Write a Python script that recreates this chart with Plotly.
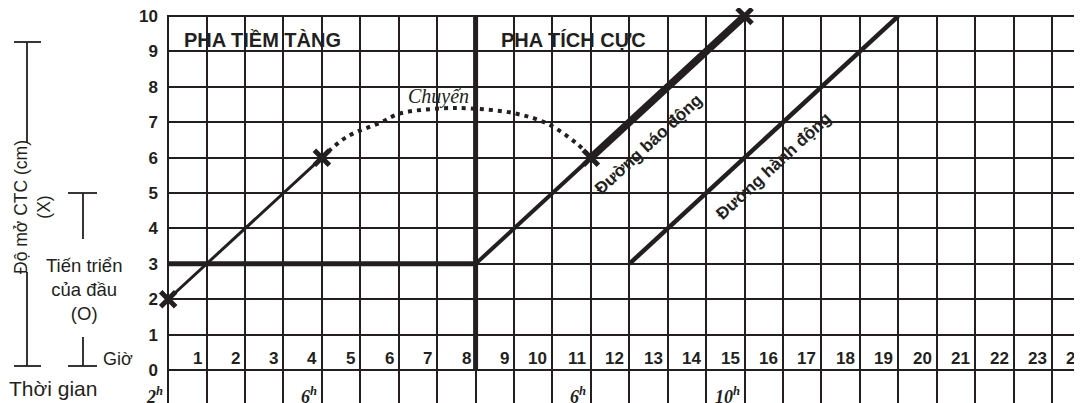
import plotly.graph_objects as go

# ---------------- data ----------------
hours = list(range(1, 25))            # hour column labels
grid_hours = list(range(0, 25))       # vertical grid positions
cervix_cm = list(range(0, 11))        # cervical dilatation ticks

latent_x = [0, 4]
latent_y = [2, 6]
transition_x = [4, 4.65, 5.52, 6.04, 7.08, 7.86, 8.98, 9.85, 10.63, 11]
transition_y = [6, 6.59, 6.99, 7.25, 7.39, 7.39, 7.26, 6.97, 6.4, 6]
alert_thin_x = [8, 11]
alert_thin_y = [3, 6]
alert_thick_x = [11, 15]
alert_thick_y = [6, 10]
action_x = [12, 19]
action_y = [3, 10]
threshold_x = [0, 8]
threshold_y = [3, 3]
boundary_x = [8, 8]
boundary_y = [0, 10]
marks_x = [0, 4, 11, 15]
marks_y = [2, 6, 6, 10]
clock_x = [0, 4, 11, 15]
clock_labels = ["2", "6", "6", "10"]

INK = "#231f20"
SANS = "Liberation Sans, Arial, sans-serif"
SERIF = "Liberation Serif, DejaVu Serif, serif"

# page body has an 8px margin: figure occupies page pixels 8..1082, 8..403
OFF = 8
W, H = 1082 - OFF, 403 - OFF
ML, MR, MT, MB = 159, 0, 7, 0
PW, PH = W - ML - MR, H - MT - MB
XR = [-0.03, 23.78]
YR = [-0.93, 10.03]
UNIT_PX = PW / (XR[1] - XR[0])


def px(xp):
    """page pixel x -> paper coordinate"""
    return (xp - OFF - ML) / PW


def py(yp):
    """page pixel y -> paper coordinate"""
    return (H - MB - (yp - OFF)) / PH


fig = go.Figure()


def add_line(x, y, width, dash=None, shape="linear"):
    fig.add_trace(go.Scatter(
        x=x, y=y, mode="lines",
        line=dict(color=INK, width=width, dash=dash, shape=shape),
        hoverinfo="skip", showlegend=False, cliponaxis=False))


add_line(threshold_x, threshold_y, 5)
add_line(boundary_x, boundary_y, 5)
add_line(latent_x, latent_y, 3)
add_line(transition_x, transition_y, 4, dash="4px,5px", shape="spline")
add_line(alert_thin_x, alert_thin_y, 4)
add_line(alert_thick_x, alert_thick_y, 7.5)
add_line(action_x, action_y, 4.5)

fig.add_trace(go.Scatter(
    x=marks_x, y=marks_y, mode="markers",
    marker=dict(symbol="x-thin", size=15, line=dict(width=5, color=INK)),
    hoverinfo="skip", showlegend=False, cliponaxis=False))

ann = []
# hour labels in the row above 0 (right-aligned just left of each grid line)
for h in hours:
    ann.append(dict(x=h - 0.5, y=0.34, xref="x", yref="y", text=f"<b>{h}</b>",
                    xshift=0.5 * UNIT_PX - 3,
                    showarrow=False, xanchor="right", yanchor="middle",
                    font=dict(family=SANS, size=17, color=INK)))
# clock time labels
for cx, lab in zip(clock_x, clock_labels):
    ann.append(dict(x=cx, y=-0.72, xref="x", yref="y", xshift=-3,
                    text=f"<b><i>{lab}<sup>h</sup></i></b>",
                    showarrow=False, xanchor="right", yanchor="middle",
                    font=dict(family=SERIF, size=18, color=INK)))
# phase labels
ann.append(dict(x=0.36, y=9.32, xref="x", yref="y", text="<b>PHA TIỀM TÀNG</b>",
                showarrow=False, xanchor="left", yanchor="middle",
                font=dict(family=SANS, size=20, color=INK)))
ann.append(dict(x=8.61, y=9.32, xref="x", yref="y", text="<b>PHA TÍCH CỰC</b>",
                showarrow=False, xanchor="left", yanchor="middle",
                font=dict(family=SANS, size=20, color=INK)))
ann.append(dict(x=7.03, y=7.74, xref="x", yref="y", text="<i>Chuyển</i>",
                showarrow=False, xanchor="center", yanchor="middle",
                font=dict(family=SERIF, size=20, color=INK)))
ann.append(dict(x=12.49, y=6.38, xref="x", yref="y", text="<b>Đường báo động</b>",
                showarrow=False, textangle=-42.6, xanchor="center", yanchor="middle",
                font=dict(family=SANS, size=17, color=INK)))
ann.append(dict(x=15.74, y=5.76, xref="x", yref="y", text="<b>Đường hành động</b>",
                showarrow=False, textangle=-42.6, xanchor="center", yanchor="middle",
                font=dict(family=SANS, size=17, color=INK)))

# left-side key texts
ann.append(dict(x=px(32), y=py(207), xref="paper", yref="paper",
                text="Độ mở CTC (cm)<br>(X)", textangle=-90, showarrow=False,
                xanchor="center", yanchor="middle",
                font=dict(family=SANS, size=17.5, color=INK)))
ann.append(dict(x=px(84), y=py(290), xref="paper", yref="paper",
                text="Tiến triển<br>của đầu<br>(O)", showarrow=False,
                xanchor="center", yanchor="middle",
                font=dict(family=SANS, size=18.5, color=INK)))
ann.append(dict(x=px(118), y=py(359), xref="paper", yref="paper",
                text="Giờ", showarrow=False, xanchor="center", yanchor="middle",
                font=dict(family=SANS, size=18, color=INK)))
ann.append(dict(x=px(53), y=py(388), xref="paper", yref="paper",
                text="Thời gian", showarrow=False, xanchor="center", yanchor="middle",
                font=dict(family=SANS, size=21, color=INK)))

shapes = []
for (x0, y0, x1, y1) in [
    (14, 42, 41, 42), (27, 42, 27, 143), (27, 272, 27, 366), (14, 366, 41, 366),
    (68, 193, 97, 193), (83, 193, 83, 239), (83, 337, 83, 366), (68, 366, 97, 366),
]:
    shapes.append(dict(type="line", xref="paper", yref="paper",
                       x0=px(x0), y0=py(y0), x1=px(x1), y1=py(y1),
                       line=dict(color=INK, width=1.8)))

fig.update_layout(
    width=W, height=H,
    margin=dict(l=ML, r=MR, t=MT, b=MB, pad=0),
    paper_bgcolor="white", plot_bgcolor="white",
    annotations=ann, shapes=shapes,
    xaxis=dict(range=XR, tickvals=grid_hours, showticklabels=False,
               showgrid=True, gridcolor=INK, gridwidth=2, zeroline=False,
               showline=False, ticks=""),
    yaxis=dict(range=YR, tickvals=cervix_cm,
               ticktext=[f"<b>{v}</b>" for v in cervix_cm],
               tickfont=dict(family=SANS, size=17, color=INK),
               ticklabelstandoff=8, ticklabeloverflow="allow",
               showgrid=True, gridcolor=INK, gridwidth=2, zeroline=False,
               showline=False, ticks=""),
)

fig.write_html("out.html")
